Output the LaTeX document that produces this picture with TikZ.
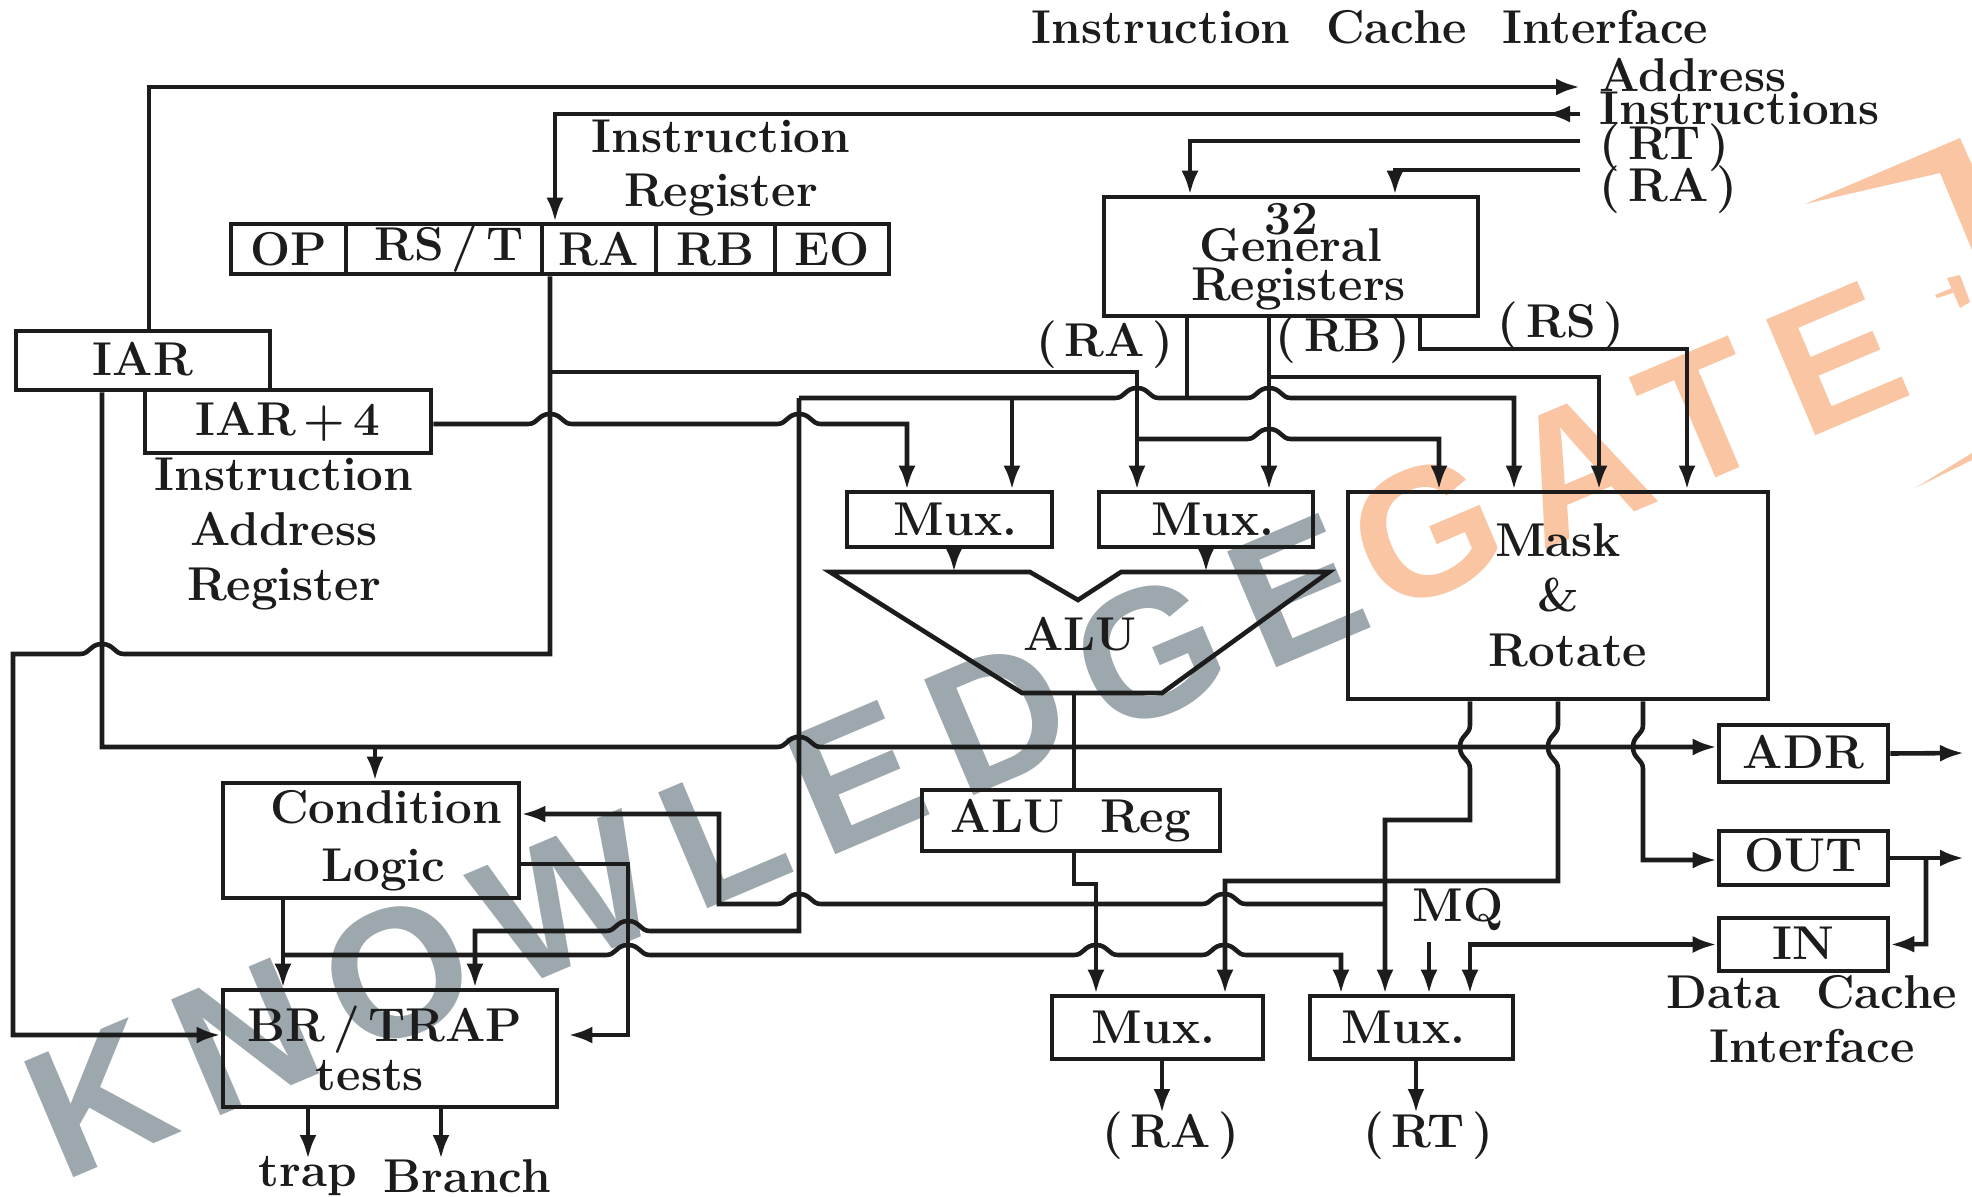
\documentclass[tikz,border=0pt]{standalone}
\usepackage{xcolor}
\usepackage{fontspec}
\newfontfamily\markfont[LetterSpace=15]{Liberation Sans}
\usetikzlibrary{arrows.meta,positioning,calc}
\definecolor{wireblack}{RGB}{28, 28, 28}
\definecolor{markgray}{RGB}{156, 168, 173}
\definecolor{markorange}{RGB}{249, 197, 162}

% Small hops where one wire passes over another
\newcommand{\hjump}[2]{-- (#1-22,#2) .. controls (#1-12,#2) and (#1-12,#2-10) .. (#1,#2-10) .. controls (#1+12,#2-10) and (#1+12,#2) .. (#1+22,#2)}
\newcommand{\hjumpl}[2]{-- (#1+22,#2) .. controls (#1+12,#2) and (#1+12,#2-10) .. (#1,#2-10) .. controls (#1-12,#2-10) and (#1-12,#2) .. (#1-22,#2)}
\newcommand{\vjump}[2]{-- (#1,#2-22) .. controls (#1,#2-12) and (#1-10,#2-12) .. (#1-10,#2) .. controls (#1-10,#2+12) and (#1,#2+12) .. (#1,#2+22)}

\begin{document}
\begin{tikzpicture}[
  x=0.01cm, y=-0.01cm,
  box/.style={rectangle, draw=wireblack, line width=1.3pt, inner sep=0pt, align=center, text=wireblack, font=\fontsize{13.5}{15.6}\selectfont\bfseries},
  tag/.style={inner sep=0pt, align=center, text=wireblack, font=\fontsize{13.5}{15.6}\selectfont\bfseries},
  markword/.style={rotate=23, anchor=base west, inner sep=0pt, font=\markfont\bfseries\fontsize{52}{56}\selectfont},
  wire/.style={line width=1.3pt, color=wireblack},
  flow/.style={-{Latex[length=2.4mm,width=1.7mm]}, line width=1.3pt, color=wireblack},
  biflow/.style={{Latex[length=2.4mm,width=1.7mm]}-{Latex[length=2.4mm,width=1.7mm]}, line width=1.3pt, color=wireblack}
]
\useasboundingbox (0,0) rectangle (1972,1196);

% Watermark, under the drawing
\node[markword, text=markgray] (markknow) at (62,1183) {KNOWLEDGE};
\node[markword, text=markorange] (markgate) at (1385,618) {GATE};
\fill[markorange] (1805,204) -- (1960,138) -- (1972,165) -- (1972,250) -- (1940,173) -- cycle;
\fill[markorange] (1915,488) -- (1972,453) -- (1972,460) -- cycle;
\fill[markorange] (1947,278) -- (1960,275) -- (1970,302) -- (1960,308) -- cycle;
\fill[markorange] (1935,295) -- (1952,288) -- (1953,293) -- (1937,298) -- cycle;

% Instruction register
\node[box, minimum width=1.15cm, minimum height=0.5cm] (op) at (288.5,249) {OP};
\node[box, minimum width=1.96cm, minimum height=0.5cm] (rst) at (444,249) {\hspace*{0.1cm}RS\,/\,T};
\node[box, minimum width=1.14cm, minimum height=0.5cm] (ra) at (599,249) {RA};
\node[box, minimum width=1.19cm, minimum height=0.5cm] (rb) at (715.5,249) {RB};
\node[box, minimum width=1.14cm, minimum height=0.5cm] (eo) at (832,249) {EO};
\node[tag] (irlabel) at (721,168) {Instruction\\Register};

% Left side registers
\node[box, minimum width=2.54cm, minimum height=0.59cm] (iar) at (143,360.5) {\raisebox{0.8pt}{IAR}};
\node[box, minimum width=2.86cm, minimum height=0.63cm] (iarp) at (288,421.5) {\raisebox{0.8pt}{IAR\,+\,4}};
\node[tag] (iarlabel) at (284,534) {Instruction\\Address\\Register};

% Data path blocks
\node[box, minimum width=3.74cm, minimum height=1.19cm] (gr) at (1291,256.5) {32\\[-8pt]General\\[-4.5pt]\hspace*{0.15cm}Registers};
\node[box, minimum width=2.05cm, minimum height=0.55cm] (muxa) at (949.5,519.5) {\hspace*{0.12cm}Mux.};
\node[box, minimum width=2.14cm, minimum height=0.55cm] (muxb) at (1206,519.5) {\hspace*{0.14cm}Mux.};
\node[box, minimum width=4.2cm, minimum height=2.07cm] (mask) at (1558,595.5) {Mask\\\&\\\hspace*{0.2cm}Rotate};
\draw[wire] (830,572) -- (1030,572) -- (1078,600) -- (1121,572) -- (1329,572) -- (1162,693) -- (1022,693) -- cycle;
\node[tag] (alu) at (1080,634) {ALU};
\node[box, minimum width=2.98cm, minimum height=0.61cm] (alureg) at (1071,820.5) {ALU\ \ Reg};
\node[box, minimum width=2.11cm, minimum height=0.63cm] (muxc) at (1157.5,1027.5) {Mux.\hspace*{0.08cm}};
\node[box, minimum width=2.03cm, minimum height=0.63cm] (muxd) at (1411.5,1027.5) {Mux.\hspace*{0.16cm}};
\node[tag] (mq) at (1458,910) {MQ};

% Data cache side
\node[box, minimum width=1.69cm, minimum height=0.57cm] (adr) at (1803.5,753.5) {\raisebox{1pt}{ADR}};
\node[box, minimum width=1.69cm, minimum height=0.54cm] (outbox) at (1803.5,858) {\raisebox{1.8pt}{OUT}};
\node[box, minimum width=1.69cm, minimum height=0.53cm] (inbox) at (1803.5,944.5) {\raisebox{1pt}{IN}};
\node[tag] (dcache) at (1812,1019) {Data\ \ Cache\\Interface};

% Branch blocks
\node[box, minimum width=2.96cm, minimum height=1.15cm] (cond) at (371,840.5) {\hspace*{0.3cm}Condition\\[1pt]\hspace*{0.25cm}Logic};
\node[box, minimum width=3.34cm, minimum height=1.17cm] (brtrap) at (390,1048.5) {BR\,/\,TRAP\hspace*{0.1cm}\\[-1.7pt]tests\hspace*{0.4cm}};
\node[tag] (trap) at (308,1176) {trap};
\node[tag] (branch) at (467,1176) {Branch};

% Cache interface tags
\node[tag] (icache) at (1370,27) {Instruction\ \ Cache\ \ Interface};
\node[tag, anchor=west] (addrtag) at (1599,75) {Address};
\node[tag, anchor=west] (instrtag) at (1599,108) {Instructions};
\node[tag, anchor=west] (rttag) at (1599,148) {(\,RT\,)};
\node[tag, anchor=west] (ratag) at (1599,190) {(\,RA\,)};
\node[tag] (grra) at (1105,345) {(\,RA\,)};
\node[tag] (grrb) at (1343,340) {(\,RB\,)};
\node[tag] (grrs) at (1561,326) {(\,RS\,)};
\node[tag] (outra) at (1171,1136) {(\,RA\,)};
\node[tag] (outrt) at (1428,1136) {(\,RT\,)};

% Free wire ends
\coordinate (addrend) at (1580,87);
\coordinate (instrend) at (1580,114);
\coordinate (rtend) at (1580,141);
\coordinate (raend) at (1580,170);
\coordinate (adrend) at (1964,753);
\coordinate (outend) at (1964,858);
\coordinate (trapend) at (308,1159);
\coordinate (branchend) at (441,1159);
\coordinate (raout) at (1162,1113);
\coordinate (rtout) at (1416,1113);
\coordinate (mqin) at (1429,942);

% Instruction cache wires
\draw[flow] (149,0 |- iar.north) |- (addrend);
\draw[flow] (instrend) -- (1546,114);
\draw[flow] (instrend) -| (555,0 |- ra.north);
\draw[flow] (rtend) -| (1190,0 |- gr.north);
\draw[flow] (raend) -| (1395,0 |- gr.north);

% Register field and IAR wires
\draw[flow] (550,0 |- ra.south) -- (550,654) \hjumpl{102}{654} -- (13,654) -- (13,1035) -- (0,1035 -| brtrap.west);
\draw[flow] (550,372) -- (1137,372) -- (1137,0 |- muxb.north);
\draw[flow] (1137,439) \hjump{1269}{439} -- (1439,439) -- (1439,0 |- mask.north);
\draw[flow] (iarp.east |- 0,424) \hjump{550}{424} \hjump{799}{424} -- (907,424) -- (907,0 |- muxa.north);
\draw[flow] (102,0 |- iar.south) -- (102,747) \hjump{799}{747} -- (0,747 -| adr.west);
\draw[flow] (375,747) -- (375,0 |- cond.north);

% General register outputs
\draw[wire] (1187,0 |- gr.south) -- (1187,398);
\draw[flow] (1269,0 |- gr.south) -- (1269,0 |- muxb.north);
\draw[flow] (1269,377) -- (1599,377) -- (1599,0 |- mask.north);
\draw[flow] (1420,0 |- gr.south) -- (1420,349) -- (1687,349) -- (1687,0 |- mask.north);
\draw[flow] (799,398) \hjump{1137}{398} \hjump{1269}{398} -- (1514,398) -- (1514,0 |- mask.north);
\draw[flow] (1012,398) -- (1012,0 |- muxa.north);
\draw[flow] (799,398) -- (799,931) \hjumpl{628}{931} -- (475,931) -- (475,0 |- brtrap.north);

% ALU
\draw[flow] (954,0 |- muxa.south) -- (954,572);
\draw[flow] (1206,0 |- muxb.south) -- (1206,572);
\draw[wire] (1074,693) -- (1074,0 |- alureg.north);
\draw[flow] (1074,0 |- alureg.south) -- (1074,884) -- (1096,884) -- (1096,0 |- muxc.north);

% Mask and rotate outputs
\draw[flow] (1470,0 |- mask.south) \vjump{1470}{747} -- (1470,820) -- (1385,820) -- (1385,0 |- muxd.north);
\draw[flow] (1385,904) \hjumpl{1224}{904} \hjumpl{799}{904} -- (719,904) -- (719,814) -- (0,814 -| cond.east);
\draw[flow] (1558,0 |- mask.south) \vjump{1558}{747} -- (1558,881) -- (1225,881) -- (1225,0 |- muxc.north);
\draw[flow] (1643,0 |- mask.south) \vjump{1643}{747} -- (1643,860) -- (0,860 -| outbox.west);

% Branch logic
\draw[flow] (283,0 |- cond.south) -- (283,0 |- brtrap.north);
\draw[flow] (283,955) \hjump{628}{955} \hjump{1096}{955} \hjump{1224}{955} -- (1341,955) -- (1341,0 |- muxd.north);
\draw[flow, shorten >=0.09cm] (0,864 -| cond.east) -- (628,864) -- (628,1035) -- (0,1035 -| brtrap.east);
\draw[flow] (308,0 |- brtrap.south) -- (trapend);
\draw[flow] (441,0 |- brtrap.south) -- (branchend);

% Outputs and data cache
\draw[flow] (1162,0 |- muxc.south) -- (raout);
\draw[flow] (1416,0 |- muxd.south) -- (rtout);
\draw[flow] (mqin) -- (1429,0 |- muxd.north);
\draw[biflow] (inbox.west) -| (1470,0 |- muxd.north);
\draw[flow] (adr.east) -- (adrend);
\draw[flow] (outbox.east) -- (outend);
\draw[flow] (1926,858) -- (1926,944) -- (inbox.east);

\end{tikzpicture}
\end{document}
